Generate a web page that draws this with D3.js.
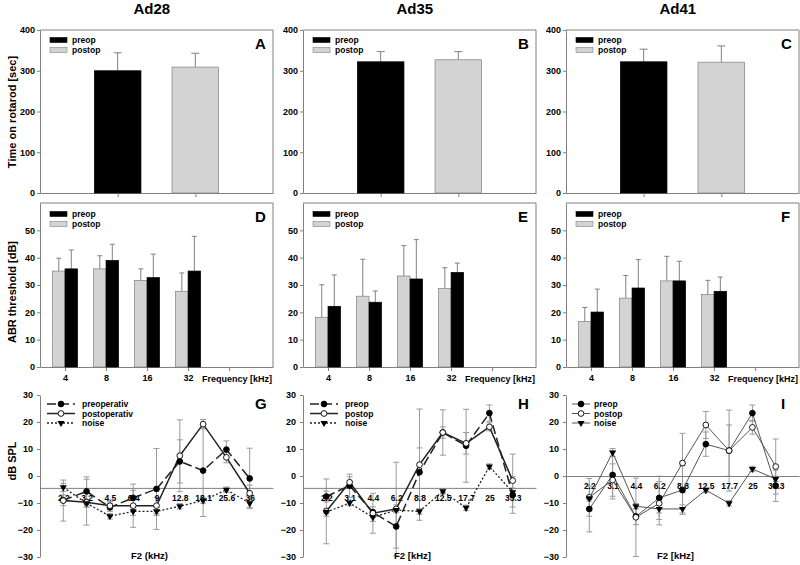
<!DOCTYPE html>
<html>
<head>
<meta charset="utf-8">
<script src="https://cdn.jsdelivr.net/npm/d3@7"></script>
<style>
    body { margin: 0; background: #fff; }
    svg { font-family: Arial, "Liberation Sans", sans-serif; font-weight: bold; }
    .axis path, .axis line { stroke: #808080; }
    .axis text { fill: #000; font-size: 9px; font-weight: bold; font-family: Arial, "Liberation Sans", sans-serif; }
</style>
</head>
<body>
<svg width="800" height="565"></svg>
<script>
// ---------- data ----------
const groups = ["Ad28", "Ad35", "Ad41"];
const panelLetters = [["A", "B", "C"], ["D", "E", "F"], ["G", "H", "I"]];

// rotarod (sec)
const rotarodPreop = [300, 322, 322];
const rotarodPreopErr = [44, 25, 31];
const rotarodPostop = [309, 327, 321];
const rotarodPostopErr = [34, 20, 40];
const rotarodTicks = [0, 100, 200, 300, 400];

// ABR thresholds (dB), one row per group
const abrFreqs = ["4", "8", "16", "32"];
const abrPostop = [[35.1, 35.9, 31.7, 27.7], [18.2, 25.9, 33.3, 28.7], [16.6, 25.2, 31.5, 26.5]];
const abrPostopErr = [[4.7, 4.8, 4.2, 6.7], [11.9, 13.5, 11.1, 7.6], [5.2, 8.3, 9.0, 5.2]];
const abrPreop = [[35.9, 39.0, 32.7, 35.1], [22.2, 23.7, 32.2, 34.6], [20.1, 28.9, 31.5, 27.7]];
const abrPreopErr = [[6.9, 5.9, 8.6, 12.7], [11.5, 4.1, 14.4, 3.4], [8.4, 10.4, 7.2, 5.2]];
const abrTicks = [0, 10, 20, 30, 40, 50];

// DPOAE (dB SPL)
const f2Labels = [
    ["2.2", "3.2", "4.5", "6.4", "9", "12.8", "18.1", "25.6", "36"],
    ["2.2", "3.1", "4.4", "6.2", "8.8", "12.5", "17.7", "25", "35.3"],
    ["2.2", "3.1", "4.4", "6.2", "8.8", "12.5", "17.7", "25", "35.3"]
];
const dpPreop = [
    [-9, -5.7, -11.6, -8.1, -4.8, 5.4, 2.0, 9.8, -0.9],
    [-7.6, -3.6, -13.4, -18.7, 1.4, 16.1, 11.2, 23.3, -7.0],
    [-12.2, 0.4, -15.0, -8.1, -5.2, 11.8, 9.4, 23.3, -3.6]
];
const dpPreopErr = [
    [2, 5.4, 1.5, 2.8, 15, 8, 17, 3.2, 11.2],
    [2, 4.3, 2, 8, 9, 2.1, 13.5, 3, 6.8],
    [8.5, 8.9, 3, 8, 9, 4.5, 15, 3, 5.8]
];
const dpPostop = [
    [-9.1, -9.7, -11, -11, -11, 7.5, 19.2, 6.9, -6.4],
    [-13.1, -2.3, -13.8, -12.2, 4.2, 16.1, 12.1, 18.2, -1.7],
    [-7.9, -1.5, -15.3, -10.1, 4.8, 18.9, 9.4, 18.0, 3.5]
];
const dpPostopErr = [
    [7.6, 8.5, 1.5, 8, 3, 13.3, 1.7, 2, 3],
    [12, 2, 7.4, 17.3, 20.6, 8.4, 4, 1.5, 9.8],
    [7, 6, 14.5, 8, 11, 5, 9.5, 2.5, 10.2]
];
const dpNoise = [
    [-4.2, -10.1, -14.9, -13.1, -13.1, -11.2, -9.1, -5.1, -10.1],
    [-13.4, -10, -15.3, -12.6, -13.1, -5.7, -11.8, 3.5, -6.0],
    [-8.3, 8.7, -11.2, -12.2, -12.2, -5.2, -10.1, 2.6, -1.1]
];
const dpNoiseErr = [
    [1.5, 1.5, 1, 1.5, 1.5, 1, 1, 1, 1.5],
    [1.5, 1, 1.5, 1, 1, 1, 1, 1, 1.5],
    [1, 1.5, 1, 1.5, 1.5, 1, 1, 1, 1]
];
const dpLegend = [["preoperativ", "postoperativ", "noise"], ["preop", "postop", "noise"], ["preop", "postop", "noise"]];
const dpAxisTitle = ["F2 (kHz)", "F2 [kHz]", "F2 [kHz]"];
const dpXAxisAt = [-4.4, -4.4, 0];
const dpTicks = [-30, -20, -10, 0, 10, 20, 30];

// ---------- layout ----------
const svg = d3.select("svg");
const lefts = [40, 303, 566], W = 233;
const gray = "#808080", barGray = "#d3d3d3";

// y axis titles
function yTitle(text, cy) {
    svg.append("text")
        .attr("transform", `translate(16,${cy}) rotate(-90)`)
        .attr("text-anchor", "middle")
        .style("font-size", "11px")
        .text(text);
}
yTitle("Time on rotarod [sec]", 112);
yTitle("ABR threshold [dB]", 292);
yTitle("dB SPL", 461);

function letter(text, right, baseline) {
    svg.append("text")
        .attr("x", right - 18)
        .attr("y", baseline)
        .style("font-size", "15px")
        .text(text);
}

function frame(left, right, top, bottom) {
    svg.append("path")
        .attr("d", `M${left},${top}H${right}V${bottom}`)
        .attr("fill", "none")
        .attr("stroke", gray);
}

function barLegend(left, rows) {
    rows.forEach((r, k) => {
        svg.append("rect")
            .attr("x", left + 10).attr("y", r.y - 2.5)
            .attr("width", 17).attr("height", 5)
            .attr("fill", r.fill).attr("stroke", r.fill === "#000" ? "#000" : gray).attr("stroke-width", 0.6);
        svg.append("text")
            .attr("x", left + 32).attr("y", r.y + 3)
            .style("font-size", "8.5px")
            .text(r.label);
    });
}

// ---------- row 1: rotarod ----------
groups.forEach((name, i) => {
    const left = lefts[i], right = left + W;
    const x = d3.scaleLinear().domain([0, 3]).range([left, right]);
    const y = d3.scaleLinear().domain([0, 400]).range([193, 30]);

    svg.append("text")
        .attr("x", left + W * 0.48).attr("y", 14)
        .attr("text-anchor", "middle")
        .style("font-size", "15px")
        .text(name);

    frame(left, right, 30, 193);

    svg.append("g").attr("class", "axis")
        .attr("transform", `translate(${left},0)`)
        .call(d3.axisLeft(y).tickValues(rotarodTicks).tickSize(3).tickSizeOuter(0).tickPadding(2));
    svg.append("g").attr("class", "axis")
        .attr("transform", "translate(0,193)")
        .call(d3.axisBottom(x).tickValues([1, 2]).tickFormat("").tickSize(4).tickSizeOuter(0));

    const bw = x(0.6) - x(0);
    const bars = [
        { pos: 1, v: rotarodPreop[i], e: rotarodPreopErr[i], fill: "#000" },
        { pos: 2, v: rotarodPostop[i], e: rotarodPostopErr[i], fill: barGray }
    ];
    bars.forEach(b => {
        const cx = x(b.pos);
        svg.append("line")
            .attr("x1", cx).attr("x2", cx)
            .attr("y1", y(b.v)).attr("y2", y(b.v + b.e))
            .attr("stroke", gray);
        svg.append("line")
            .attr("x1", cx - 4).attr("x2", cx + 4)
            .attr("y1", y(b.v + b.e)).attr("y2", y(b.v + b.e))
            .attr("stroke", gray);
        svg.append("rect")
            .attr("x", cx - bw / 2).attr("y", y(b.v))
            .attr("width", bw).attr("height", y(0) - y(b.v))
            .attr("fill", b.fill)
            .attr("stroke", b.fill === "#000" ? "#000" : gray).attr("stroke-width", 0.7);
    });

    barLegend(left, [{ y: 40, fill: "#000", label: "preop" }, { y: 50, fill: barGray, label: "postop" }]);
    letter(panelLetters[0][i], right, 49);
});

// ---------- row 2: ABR ----------
groups.forEach((name, i) => {
    const left = lefts[i], right = left + W;
    const x = d3.scaleLinear().domain([0.39, 6.07]).range([left, right]);
    const y = d3.scaleLinear().domain([0, 60]).range([367, 203]);

    frame(left, right, 203, 367);

    svg.append("g").attr("class", "axis")
        .attr("transform", `translate(${left},0)`)
        .call(d3.axisLeft(y).tickValues(abrTicks).tickSize(3).tickSizeOuter(0).tickPadding(2));
    svg.append("g").attr("class", "axis")
        .attr("transform", "translate(0,367)")
        .call(d3.axisBottom(x).tickValues([1, 2, 3, 4, 5])
            .tickFormat(d => abrFreqs[d - 1] || "").tickSize(4).tickSizeOuter(0).tickPadding(4));

    svg.append("text")
        .attr("x", right - 1).attr("y", 382)
        .attr("text-anchor", "end")
        .style("font-size", "9px")
        .text("Frequency [kHz]");

    const bw = x(0.305) - x(0);
    abrFreqs.forEach((f, k) => {
        const c = x(k + 1);
        const pair = [
            { x0: c - bw, v: abrPostop[i][k], e: abrPostopErr[i][k], fill: barGray },
            { x0: c, v: abrPreop[i][k], e: abrPreopErr[i][k], fill: "#000" }
        ];
        pair.forEach(b => {
            const cx = b.x0 + bw / 2;
            svg.append("line")
                .attr("x1", cx).attr("x2", cx)
                .attr("y1", y(b.v)).attr("y2", y(b.v + b.e))
                .attr("stroke", gray);
            svg.append("line")
                .attr("x1", cx - 2.5).attr("x2", cx + 2.5)
                .attr("y1", y(b.v + b.e)).attr("y2", y(b.v + b.e))
                .attr("stroke", gray);
            svg.append("rect")
                .attr("x", b.x0).attr("y", y(b.v))
                .attr("width", bw).attr("height", y(0) - y(b.v))
                .attr("fill", b.fill)
                .attr("stroke", b.fill === "#000" ? "#000" : gray).attr("stroke-width", 0.7);
        });
    });

    barLegend(left, [{ y: 214, fill: "#000", label: "preop" }, { y: 224, fill: barGray, label: "postop" }]);
    letter(panelLetters[1][i], right, 222);
});

// ---------- row 3: DPOAE ----------
const triangle = d3.symbol(d3.symbolTriangle, 22);
const circle = d3.symbol(d3.symbolCircle, 26);

function marker(g, kind, cx, cy) {
    if (kind === "noise") {
        g.append("path").attr("d", triangle())
            .attr("transform", `translate(${cx},${cy}) rotate(180)`)
            .attr("fill", "#000");
    } else {
        g.append("path").attr("d", circle())
            .attr("transform", `translate(${cx},${cy})`)
            .attr("fill", kind === "preop" ? "#000" : "#fff")
            .attr("stroke", "#000").attr("stroke-width", 0.9);
    }
}

groups.forEach((name, i) => {
    const left = lefts[i], right = left + W;
    const x = d3.scaleLinear().domain([0, 10]).range([left, right]);
    const y = d3.scaleLinear().domain([-30, 30]).range([557, 395]);
    const simple = i === 2;

    svg.append("g").attr("class", "axis")
        .attr("transform", `translate(${left},0)`)
        .call(d3.axisLeft(y).tickValues(dpTicks).tickSize(3).tickSizeOuter(0).tickPadding(4));

    const series = [
        { kind: "preop", v: dpPreop[i], e: dpPreopErr[i], dash: simple ? null : "9,4" },
        { kind: "postop", v: dpPostop[i], e: dpPostopErr[i], dash: null },
        { kind: "noise", v: dpNoise[i], e: dpNoiseErr[i], dash: simple ? null : "2,2" }
    ];
    const lineColor = simple ? "#555" : "#222";
    const lineWidth = simple ? 1 : 1.5;

    // error bars
    series.forEach(s => {
        s.v.forEach((v, k) => {
            const cx = x(k + 1);
            const g = svg.append("g").attr("stroke", "#9a9a9a").attr("stroke-width", 1);
            g.append("line").attr("x1", cx).attr("x2", cx).attr("y1", y(v - s.e[k])).attr("y2", y(v + s.e[k]));
            g.append("line").attr("x1", cx - 3).attr("x2", cx + 3).attr("y1", y(v - s.e[k])).attr("y2", y(v - s.e[k]));
            g.append("line").attr("x1", cx - 3).attr("x2", cx + 3).attr("y1", y(v + s.e[k])).attr("y2", y(v + s.e[k]));
        });
    });

    // x axis crossing the plot
    svg.append("g").attr("class", "axis")
        .attr("transform", `translate(0,${y(dpXAxisAt[i])})`)
        .call(d3.axisBottom(x).tickValues(d3.range(1, 10))
            .tickFormat(d => f2Labels[i][d - 1]).tickSize(0).tickPadding(7))
        .call(a => a.select(".domain").attr("stroke", "#606060"))
        .selectAll("text").style("font-size", "8.5px");

    const line = d3.line()
        .x((d, k) => x(k + 1))
        .y(d => y(d));

    series.forEach(s => {
        svg.append("path")
            .datum(s.v)
            .attr("d", line)
            .attr("fill", "none")
            .attr("stroke", lineColor)
            .attr("stroke-width", s.kind === "noise" && !simple ? 1.3 : lineWidth)
            .attr("stroke-dasharray", s.dash);
    });
    series.forEach(s => {
        const g = svg.append("g");
        s.v.forEach((v, k) => marker(g, s.kind, x(k + 1), y(v)));
    });

    // legend
    const lx0 = simple ? left + 6 : left + 7;
    const lx1 = simple ? left + 24 : left + 35;
    const tx = simple ? left + 28 : left + 42;
    series.forEach((s, k) => {
        const ly = 404 + k * 9.5;
        svg.append("line")
            .attr("x1", lx0).attr("x2", lx1).attr("y1", ly).attr("y2", ly)
            .attr("stroke", lineColor)
            .attr("stroke-width", s.kind === "noise" && !simple ? 1.3 : lineWidth)
            .attr("stroke-dasharray", s.dash);
        marker(svg.append("g"), s.kind, (lx0 + lx1) / 2, ly);
        svg.append("text")
            .attr("x", tx).attr("y", ly + 3)
            .style("font-size", "8.5px")
            .text(dpLegend[i][k]);
    });

    svg.append("text")
        .attr("x", x(4.7)).attr("y", 559)
        .attr("text-anchor", "middle")
        .style("font-size", "9.5px")
        .text(dpAxisTitle[i]);

    letter(panelLetters[2][i], right, 409);
});
</script>
</body>
</html>
